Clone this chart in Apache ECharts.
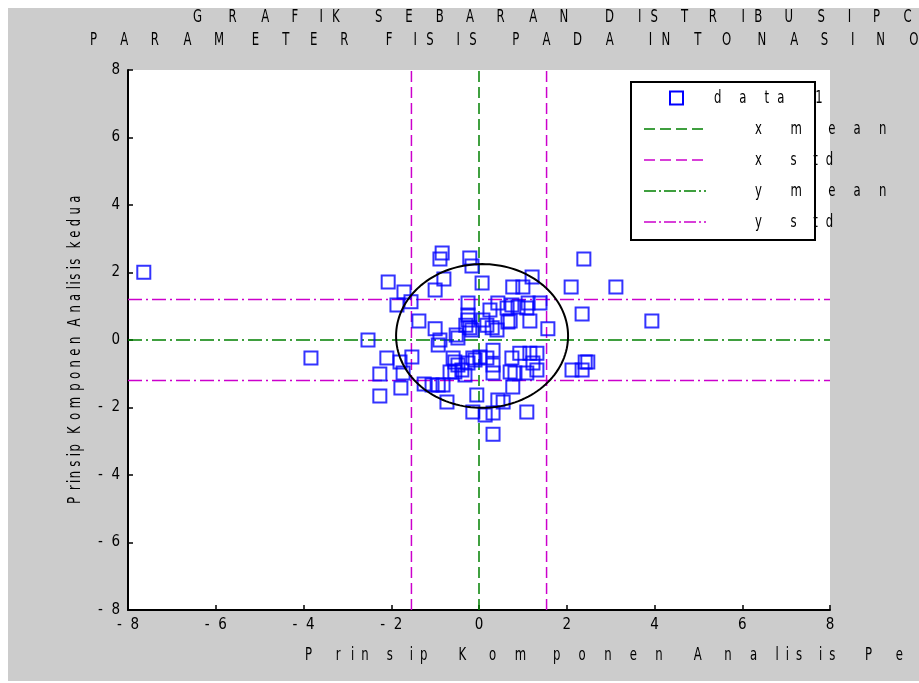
<!DOCTYPE html>
<html>
<head>
<meta charset="utf-8">
<script src="https://cdn.jsdelivr.net/npm/echarts@6/dist/echarts.min.js"></script>
<style>
  html, body { margin: 0; padding: 0; background: #fff; }
  #chart { position: absolute; left: 8px; top: 8px; width: 911px; height: 673px; }
</style>
</head>
<body>
<div id="chart"></div>
<script>
// PCA scores (first / second component)
const pcX = [
  -7.64, -3.83, 3.94, 3.12, 2.39, 2.10, 2.35, 1.57, 2.42, 2.48, 2.12, 2.35,
  -2.53, -2.07, -1.71, -1.87, -1.55, -1.37, -1.00, -0.84, -0.89, -0.80, -1.00,
  -0.21, -0.16, -0.25, -0.25, -0.25, -0.21, -0.52, -0.89, 0.07, 0.43, 0.25,
  0.75, 0.89, 1.09, 1.12, 1.39, 0.71, 1.16, 1.21, 0.77, 1.00, 0.30, 0.09,
  -2.10, -1.80, -1.53, -2.26, -1.73, -2.26, -1.78, -1.25, -1.07, -0.93, -0.82,
  -0.73, -0.93, -0.55, -0.39, -0.48, -0.25, -0.14, -0.55, -0.32, -0.05, -0.14,
  0.32, 0.02, 0.32, 0.32, 0.75, 0.71, 0.93, 1.16, 1.32, 1.23, 1.32, 1.09,
  0.77, 0.55, 0.43, 0.32, 0.14, 1.09, 0.32, -0.16, -0.30, -0.48, 0.64, 0.18,
  0.41, 0.66, -0.59, -0.66, -0.09, 0.18, 0.82
];
const pcY = [
  2.01, -0.53, 0.56, 1.57, 2.40, 1.57, 0.77, 0.33, -0.65, -0.65, -0.89, -0.89,
  0.00, 1.72, 1.42, 1.04, 1.13, 0.56, 0.33, 2.58, 2.40, 1.81, 1.48,
  2.43, 2.19, 1.10, 0.74, 0.59, 0.36, 0.15, 0.00, 1.69, 1.10, 0.89,
  1.04, 0.98, 0.95, 1.10, 1.10, 0.56, 0.56, 1.87, 1.57, 1.57, 0.36, 0.59,
  -0.53, -0.65, -0.50, -1.01, -0.98, -1.66, -1.42, -1.30, -1.33, -1.33, -1.33,
  -1.84, -0.15, -0.95, -0.89, -0.74, -0.68, -0.53, -0.65, -1.04, -1.63, -2.13,
  -0.30, -0.50, -0.74, -0.98, -0.53, -0.95, -0.39, -0.39, -0.39, -0.68, -0.89, -0.98,
  -1.39, -1.84, -1.78, -2.16, -2.22, -2.13, -2.79, 0.30, 0.44, 0.06, 0.95, 0.44,
  0.30, 0.53, -0.53, -0.95, -0.59, -0.53, -0.98
];
const xMean = 0.0, xStd = 1.54;
const yMean = 0.0, yStd = 1.2;
// ellipse: centre x, centre y, radius x, radius y
const ellipse = [0.07, 0.12, 1.96, 2.13];
const axisMin = -8, axisMax = 8, tickStep = 2;

const titleLines = ['GRAFIK SEBARAN DISTRIBUSI PC', 'PARAMETER FISIS PADA INTONASI NO'];
const xLabel = 'Prinsip Komponen Analisis Pe';
const yLabel = 'Prinsip Komponen Analisis kedua';
const legendNames = ['data 1', 'x mean', 'x std', 'y mean', 'y std'];

const GREEN = '#008000', MAGENTA = '#cc00cc', BLUE = '#0000ff';
const OX = 8, OY = 8;
const FONT = '13px "Liberation Sans Narrow", "DejaVu Sans Condensed", sans-serif';

// matlab spreads its letters out: advance follows Arial widths at a big size
const ctx = document.createElement('canvas').getContext('2d');
ctx.font = '100px "Liberation Sans", Arial, sans-serif';
function em (ch) { return ctx.measureText(ch).width / 100; }

function spaced (str, x, y, scale, vertical) {
  const out = [];
  let cum = 0;
  for (const ch of str) {
    if (ch !== ' ') {
      out.push({
        type: 'text',
        x: vertical ? x - OX : x + cum * scale - OX,
        y: vertical ? y - cum * scale - OY : y - OY,
        rotation: vertical ? Math.PI / 2 : 0,
        scaleY: 1.35,
        z: 100,
        style: { text: ch, font: FONT, fill: '#000', align: 'left', verticalAlign: 'middle' }
      });
    }
    cum += em(ch);
  }
  return out;
}

function vline (x, type, color) {
  return {
    type: 'line', data: [[x, axisMin], [x, axisMax]], showSymbol: false, silent: true,
    lineStyle: { color: color, width: 1.5, type: type }, z: 3
  };
}
function hline (y, type, color) {
  return {
    type: 'line', data: [[axisMin, y], [axisMax, y]], showSymbol: false, silent: true,
    lineStyle: { color: color, width: 1.5, type: type }, z: 3
  };
}

const dashed = [11, 5];
const dashDot = [14, 4, 2, 4];

// legend box (drawn by hand to keep matlab's spacing)
const legendRows = [98, 129, 160, 191, 222];
const legendGraphics = [
  { type: 'rect', z: 99, shape: { x: 631 - OX, y: 82 - OY, width: 184, height: 158 },
    style: { fill: '#fff', stroke: '#000', lineWidth: 2 } },
  { type: 'rect', z: 100, shape: { x: 670 - OX, y: legendRows[0] - 6.5 - OY, width: 13, height: 13 },
    style: { fill: null, stroke: BLUE, lineWidth: 2 } }
];
const legendLines = [[GREEN, dashed], [MAGENTA, dashed], [GREEN, [12, 3, 2, 3]], [MAGENTA, [12, 3, 2, 3]]];
legendLines.forEach(function (l, i) {
  legendGraphics.push({
    type: 'line', z: 100,
    shape: { x1: 644 - OX, y1: legendRows[i + 1] - OY, x2: 706 - OX, y2: legendRows[i + 1] - OY },
    style: { stroke: l[0], lineWidth: 1.5, lineDash: l[1] }
  });
});
let textGraphics = [];
textGraphics = textGraphics.concat(spaced(legendNames[0], 714, legendRows[0], 45.5));
for (let i = 1; i < legendNames.length; i++) {
  textGraphics = textGraphics.concat(spaced(legendNames[i], 755, legendRows[i], 45.5));
}
textGraphics = textGraphics.concat(spaced(titleLines[0], 193, 17, 45.5));
textGraphics = textGraphics.concat(spaced(titleLines[1], 90, 40, 45.5));
textGraphics = textGraphics.concat(spaced(xLabel, 305, 655, 46));
textGraphics = textGraphics.concat(spaced(yLabel, 75, 504, 21, true));

const points = pcX.map(function (x, i) { return [x, pcY[i]]; });

function tickFmt (v) { return v < 0 ? '-  ' + (-v) : String(v); }

const axisCommon = {
  type: 'value', min: axisMin, max: axisMax, interval: tickStep,
  splitLine: { show: false },
  axisLine: { show: true, onZero: false, lineStyle: { color: '#000', width: 2 } },
  axisTick: { show: true, inside: true, length: 5, lineStyle: { color: '#000', width: 1.5 } },
  axisLabel: {
    color: '#000', fontSize: 15, margin: 8,
    fontFamily: '"Liberation Sans Narrow", "DejaVu Sans Condensed", sans-serif',
    formatter: tickFmt
  }
};

const chart = echarts.init(document.getElementById('chart'));
chart.setOption({
  animation: false,
  backgroundColor: '#cccccc',
  grid: { left: 120, right: 89, top: 62, bottom: 71, show: true, backgroundColor: '#fff', borderWidth: 0 },
  xAxis: Object.assign({}, axisCommon, { position: 'bottom' }),
  yAxis: Object.assign({}, axisCommon, { position: 'left' }),
  graphic: legendGraphics.concat(textGraphics),
  series: [
    vline(xMean, dashed, GREEN),
    vline(xMean - xStd, dashed, MAGENTA),
    vline(xMean + xStd, dashed, MAGENTA),
    hline(yMean, dashDot, GREEN),
    hline(yMean - yStd, dashDot, MAGENTA),
    hline(yMean + yStd, dashDot, MAGENTA),
    {
      type: 'scatter', data: points, symbol: 'rect', symbolSize: 13, z: 4,
      itemStyle: { color: 'rgba(0,0,0,0)', borderColor: BLUE, borderWidth: 2 }
    },
    {
      type: 'custom', data: [ellipse], encode: { x: 0, y: 1 }, z: 5, silent: true,
      renderItem: function (params, api) {
        const cx = api.value(0), cy = api.value(1), rx = api.value(2), ry = api.value(3);
        const pts = [];
        for (let k = 0; k <= 144; k++) {
          const t = k / 144 * Math.PI * 2;
          pts.push(api.coord([cx + rx * Math.cos(t), cy + ry * Math.sin(t)]));
        }
        return { type: 'polyline', shape: { points: pts }, style: { stroke: '#000', lineWidth: 2, fill: null } };
      }
    }
  ]
});
</script>
</body>
</html>
